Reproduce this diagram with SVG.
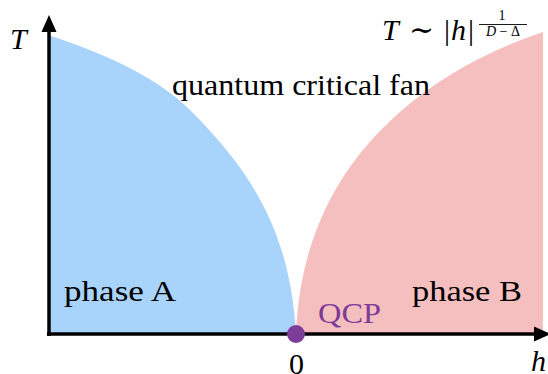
<svg xmlns="http://www.w3.org/2000/svg" width="548" height="374" viewBox="0 0 548 374">
<style>
text{font-family:'Liberation Serif','DejaVu Serif',serif;fill:#000;}
.lab{font-size:30px;}
.it{font-style:italic;}
.sm{font-size:14px;}
.ax{stroke:#000;stroke-width:3.5;fill:none;}
</style>
<rect width="548" height="374" fill="#fff"/>
<g id="phaseA-region">
<path d="M48,334 L48,35 C110,55 160,80 190,110 C250,170 290,230 296,334 Z" fill="#A8D3FB"/>
</g>
<g id="phaseB-region">
<path d="M296,334 C300,230 345,160 400,112 C440,76 490,50 543,32 L543,334 Z" fill="#F6BFBF"/>
</g>
<g id="connectors">
<line class="ax" x1="49" y1="336" x2="49" y2="30"/>
<polygon points="49,15 41.5,32 56.5,32" fill="#000"/>
<line class="ax" x1="47" y1="334" x2="536" y2="334"/>
<polygon points="551,334 534,326.5 534,341.5" fill="#000"/>
</g>
<g id="qcp">
<circle cx="296" cy="334" r="9" fill="#7D3C98"/>
<text class="lab" x="318" y="323" textLength="63" lengthAdjust="spacingAndGlyphs" style="fill:#7D3C98">QCP</text>
</g>
<g id="labels">
<text class="lab it" x="10" y="49">T</text>
<text class="lab it" x="531" y="371">h</text>
<text class="lab" x="289" y="374">0</text>
<text class="lab" x="172" y="95" textLength="258" lengthAdjust="spacingAndGlyphs">quantum critical fan</text>
<text class="lab" x="64" y="301" textLength="112" lengthAdjust="spacingAndGlyphs">phase A</text>
<text class="lab" x="412" y="301" textLength="110" lengthAdjust="spacingAndGlyphs">phase B</text>
</g>
<g id="formula">
<text class="lab it" x="382" y="40">T</text>
<text x="409" y="40" style="font-family:'DejaVu Serif',serif;font-size:30px">∼</text>
<text class="lab" x="444" y="40">|</text>
<text class="lab it" x="451" y="40">h</text>
<text class="lab" x="468" y="40">|</text>
<text class="sm" x="502" y="20" text-anchor="middle">1</text>
<line x1="479" y1="24.5" x2="527" y2="24.5" stroke="#000" stroke-width="0.9"/>
<text class="sm" x="503" y="36" text-anchor="middle"><tspan class="it">D</tspan> − Δ</text>
</g>
</svg>
